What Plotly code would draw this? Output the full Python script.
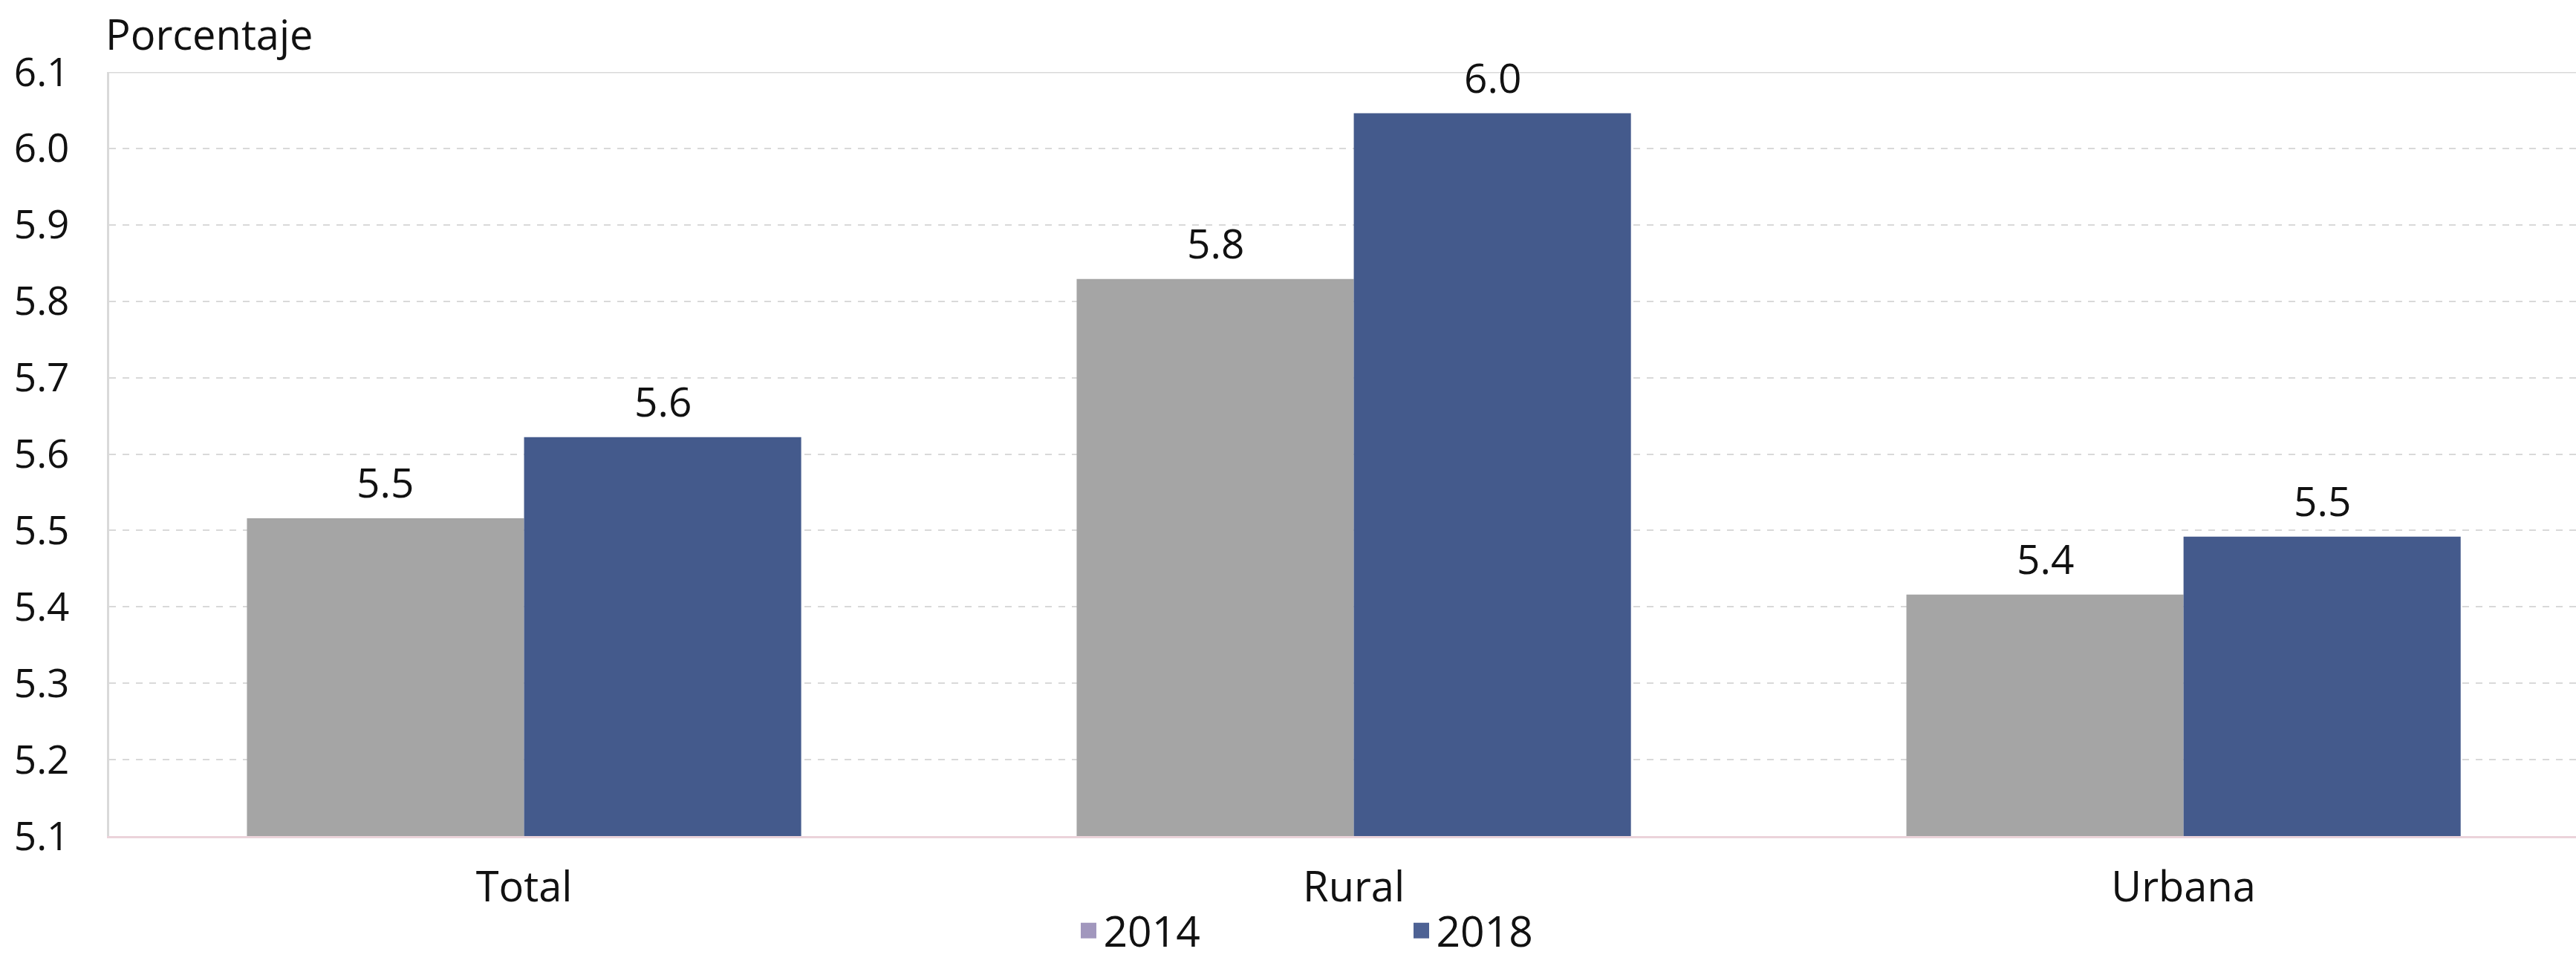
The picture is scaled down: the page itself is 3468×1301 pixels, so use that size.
import plotly.graph_objects as go

# Household size by area (percentage)
categories = ["Total", "Rural", "Urbana"]
years = ["2014", "2018"]
values_2014 = [5.516, 5.829, 5.416]
values_2018 = [5.622, 6.046, 5.492]

bar_colors = {"2014": "#A5A5A5", "2018": "#445A8C"}
legend_colors = {"2014": "#A197BD", "2018": "#4E6294"}

FONT = "Open Sans"
TXT = "#111111"
W, H = 3468, 1301
M_L, M_R, M_T, M_B = 147, 0, 97, 175

fig = go.Figure()
series = {"2014": values_2014, "2018": values_2018}
for yr in years:
    fig.add_trace(go.Bar(
        x=categories, y=series[yr], name=yr,
        marker=dict(color=bar_colors[yr], line=dict(width=0)),
        showlegend=False, hoverinfo="skip",
    ))
# legend entries (square swatches)
for yr in years:
    fig.add_trace(go.Scatter(
        x=[None], y=[None], mode="markers", name=yr,
        marker=dict(symbol="square", size=30, color=legend_colors[yr],
                    line=dict(color=legend_colors[yr], width=5)),
        showlegend=True,
    ))

# value labels above each bar
x_range = [-0.5, 2.473]
px_per_cat = (W - M_L - M_R) / (x_range[1] - x_range[0])
bargap = 0.332
half = (1 - bargap) / 4 * px_per_cat
for yr, sign in (("2014", -1), ("2018", 1)):
    for cat, v in zip(categories, series[yr]):
        fig.add_annotation(
            x=cat, y=v, text=f"{v:.1f}", showarrow=False,
            xshift=sign * half, yanchor="bottom", yshift=10,
            font=dict(family=FONT, size=55, color=TXT),
        )

# solid top border line of the plot area
fig.add_shape(type="line", xref="paper", yref="y", x0=0, x1=1, y0=6.1, y1=6.1,
              line=dict(color="#D9D9D9", width=3))

fig.add_annotation(
    xref="paper", yref="paper", x=-0.002, y=1.0, yshift=12,
    text="Porcentaje", showarrow=False, xanchor="left", yanchor="bottom",
    font=dict(family=FONT, size=56, color=TXT),
)

fig.update_layout(
    width=W, height=H,
    margin=dict(l=M_L, r=M_R, t=M_T, b=M_B, autoexpand=False),
    paper_bgcolor="white", plot_bgcolor="rgba(0,0,0,0)",
    barmode="group", bargap=bargap, bargroupgap=0,
    font=dict(family=FONT, color=TXT),
    legend=dict(
        orientation="h", x=0.391, xanchor="left", y=-0.124, yanchor="middle",
        font=dict(family=FONT, size=57, color=TXT),
        entrywidth=403, entrywidthmode="pixels", itemsizing="trace",
        bgcolor="rgba(0,0,0,0)",
    ),
    xaxis=dict(
        range=x_range, showgrid=False, showline=True, linecolor="#EBD3DA", linewidth=3,
        ticks="outside", ticklen=18, tickcolor="rgba(0,0,0,0)",
        tickfont=dict(family=FONT, size=56, color=TXT), zeroline=False,
    ),
    yaxis=dict(
        range=[5.1, 6.1], dtick=0.1, tickformat=".1f",
        showgrid=True, gridcolor="#D9D9D9", gridwidth=2, griddash="dash",
        showline=True, linecolor="#D9D9D9", linewidth=3, zeroline=False,
        ticks="outside", ticklen=40, tickcolor="rgba(0,0,0,0)",
        tickfont=dict(family=FONT, size=53, color=TXT),
    ),
)

fig.write_html("out.html")
